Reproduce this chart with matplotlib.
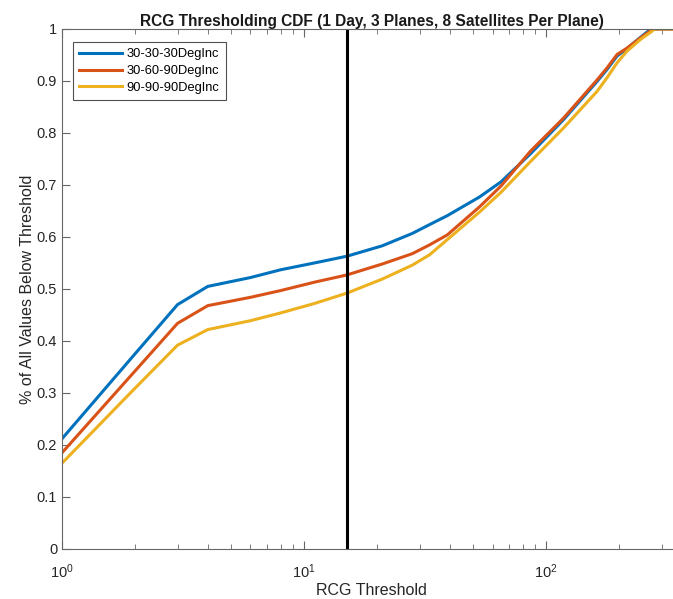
import matplotlib
matplotlib.use('Agg')
from matplotlib import pyplot as plt


THRESHOLDS = [1, 2, 3, 4, 6, 8, 11, 15, 21, 28, 33, 39, 53, 65, 86, 118, 162, 178, 196, 215,
              245, 270, 280, 360]

CDF_30_30_30 = [0.212, 0.375, 0.470, 0.505, 0.522, 0.537, 0.550, 0.563, 0.583, 0.607, 0.624,
                0.641, 0.677, 0.706, 0.760, 0.826, 0.899, 0.922, 0.948, 0.962, 0.984, 1.0,
                1.0, 1.0]
CDF_30_60_90 = [0.185, 0.342, 0.434, 0.468, 0.484, 0.497, 0.513, 0.527, 0.548, 0.568, 0.585,
                0.604, 0.658, 0.698, 0.765, 0.829, 0.902, 0.925, 0.951, 0.963, 0.983, 0.997,
                1.0, 1.0]
CDF_90_90_90 = [0.165, 0.309, 0.392, 0.422, 0.439, 0.454, 0.472, 0.492, 0.519, 0.546, 0.566,
                0.595, 0.648, 0.686, 0.745, 0.810, 0.880, 0.906, 0.935, 0.957, 0.980, 0.994,
                1.0, 1.0]

SERIES = {
    '30-30-30DegInc': (CDF_30_30_30, '#0072BD'),
    '30-60-90DegInc': (CDF_30_60_90, '#D95319'),
    '90-90-90DegInc': (CDF_90_90_90, '#EDB120'),
}

CUTOFF = 15
Y_TICKS = [0, 0.1, 0.2, 0.3, 0.4, 0.5, 0.6, 0.7, 0.8, 0.9, 1]
Y_TICK_LABELS = ['0', '0.1', '0.2', '0.3', '0.4', '0.5', '0.6', '0.7', '0.8', '0.9', '1']


def main() -> None:
    plt.rcParams['font.family'] = ['Liberation Sans', 'DejaVu Sans']

    fig = plt.figure(figsize=(6.73, 5.99), dpi=100)
    ax = fig.add_axes([62 / 673, 50 / 599, 619 / 673, 520 / 599])

    for name, (values, color) in SERIES.items():
        ax.plot(THRESHOLDS, values, color=color, linewidth=2.2, label=name)

    ax.axvline(CUTOFF, color='black', linewidth=2.2)

    ax.set_xscale('log')
    ax.set_xlim(1, 360)
    ax.set_ylim(0, 1)
    ax.set_yticks(Y_TICKS)
    ax.set_yticklabels(Y_TICK_LABELS)

    for spine in ax.spines.values():
        spine.set_color('#666666')
        spine.set_linewidth(0.8)
    ax.tick_params(which='both', direction='in', top=True, right=True,
                   colors='#666666', labelcolor='#262626', labelsize=10.5)
    ax.tick_params(which='major', length=6, width=0.8)
    ax.tick_params(which='minor', length=3.5, width=0.6)
    ax.tick_params(axis='x', which='major', pad=10)

    ax.set_title('RCG Thresholding CDF (1 Day, 3 Planes, 8 Satellites Per Plane)',
                 fontsize=11.2, fontweight='bold', color='#1a1a1a', pad=2)
    ax.set_xlabel('RCG Threshold', fontsize=11.5, color='#262626', labelpad=1)
    ax.set_ylabel('% of All Values Below Threshold', fontsize=11.5, color='#262626', labelpad=1)

    legend = ax.legend(loc='upper left', bbox_to_anchor=(0.017, 0.975), fontsize=9.3,
                       frameon=True, fancybox=False, handlelength=3.3, handletextpad=0.4,
                       borderpad=0.5, labelspacing=0.35, borderaxespad=0)
    legend.get_frame().set_edgecolor('#262626')
    legend.get_frame().set_linewidth(0.8)

    fig.savefig('out.png', dpi=100)


if __name__ == '__main__':
    main()
